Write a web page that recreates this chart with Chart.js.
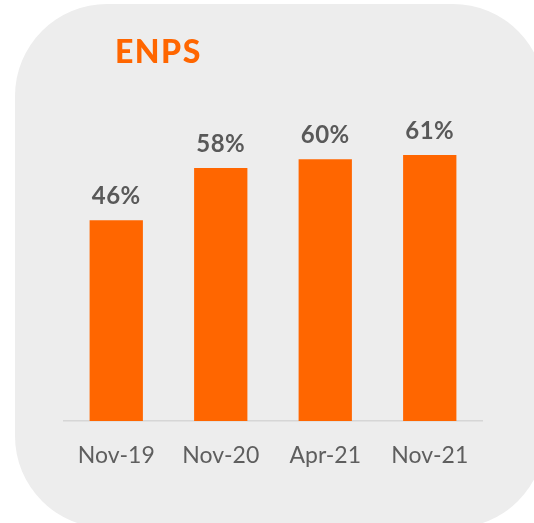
<!DOCTYPE html>
<html>
<head>
<meta charset="utf-8">
<script src="https://cdn.jsdelivr.net/npm/chart.js@4/dist/chart.umd.min.js"></script>
<style>
  html,body{margin:0;padding:0;background:#fff;width:534px;height:523px;overflow:hidden}
  #card{position:absolute;left:15px;top:4px;width:530px;height:524px;border-radius:92px;background:#ededed}
  #wrap{position:absolute;left:0;top:0;width:534px;height:523px}
</style>
</head>
<body>
<div id="card"></div>
<div id="wrap"><canvas id="enps" width="534" height="523"></canvas></div>
<script>
const categories = ['Nov-19', 'Nov-20', 'Apr-21', 'Nov-21'];
const enpsValues = [46, 58, 60, 61];
const chartTitle = 'ENPS';

const ORANGE = '#ff6600';
const GREY = '#595959';

// value labels above bars + title text
const labelsPlugin = {
  id: 'labels',
  afterDatasetsDraw(chart){
    const ctx = chart.ctx;
    const meta = chart.getDatasetMeta(0);
    ctx.save();
    ctx.fillStyle = GREY;
    ctx.font = 'bold 24px Lato';
    ctx.letterSpacing = '0.5px';
    ctx.textAlign = 'center';
    ctx.textBaseline = 'alphabetic';
    meta.data.forEach((bar, i) => {
      ctx.fillText(enpsValues[i] + '%', bar.x, bar.y - 16);
    });
    ctx.fillStyle = ORANGE;
    ctx.font = '900 32px Lato';
    ctx.letterSpacing = '1.5px';
    ctx.textAlign = 'left';
    ctx.fillText(chartTitle, 115, 63);
    ctx.restore();
  }
};

new Chart(document.getElementById('enps').getContext('2d'), {
  type: 'bar',
  data: {
    labels: categories,
    datasets: [{ data: enpsValues, backgroundColor: ORANGE, barPercentage: 0.6, categoryPercentage: 0.85 }]
  },
  options: {
    responsive: false,
    animation: false,
    layout: { padding: { left: 64, right: 52, top: 72, bottom: 0 } },
    plugins: { legend: { display: false }, tooltip: { enabled: false } },
    scales: {
      y: { display: false, min: 0, max: 80 },
      x: {
        grid: { display: false, drawTicks: false },
        border: { display: true, color: '#d6d6d6', width: 1.5 },
        ticks: { color: '#5e5e5e', font: { family: 'Lato', size: 23 }, padding: 21 },
        afterFit(scale){ scale.height = 102 }
      }
    }
  },
  plugins: [labelsPlugin]
});
</script>
</body>
</html>
